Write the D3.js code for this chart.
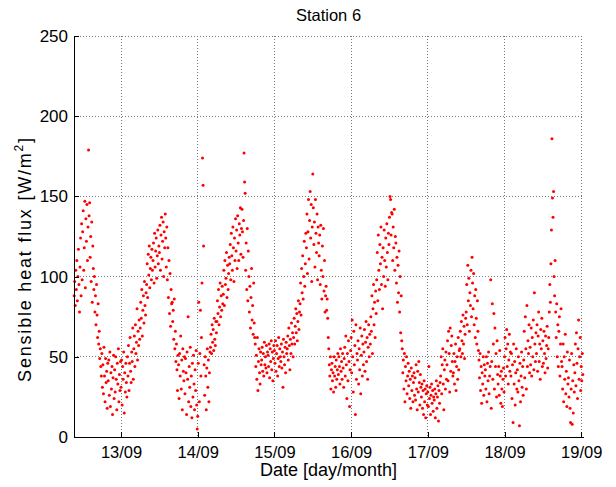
<!DOCTYPE html>
<html lang="en">
<head>
<meta charset="UTF-8">
<title>Station 6</title>
<script src="https://cdn.jsdelivr.net/npm/d3@7"></script>
<style>
    body { margin: 0; background: #fff; }
    svg text { font-family: "Liberation Sans", Arial, Helvetica, sans-serif; fill: #000; }
    .grid line { stroke: #777; stroke-dasharray: 1,2; shape-rendering: crispEdges; }
    .axis path, .axis line { stroke: #000; shape-rendering: crispEdges; }
</style>
</head>
<body>
<div id="chart"></div>
<script>

    /* global d3 */

    // sensible heat flux, one reading every 10 minutes, grouped per day
    // 12/09 starts at 09:20, the other days at 00:00
    var day12 = [88, 97, 82, 104,
        92, 110, 85, 100, 117, 95, 78, 106, 124, 88, 133, 98,
        128, 141, 104, 118, 147, 93, 136, 122, 145, 110, 131, 179,
        138, 146, 112, 125, 97, 134, 84, 119, 105, 92, 100, 78,
        88, 70, 95, 76, 62, 83, 58, 66, 49, 55, 44, 38,
        52, 31, 45, 27, 56, 38, 22, 49, 34, 41, 18, 46,
        35, 48, 26, 53, 19, 40, 30, 44, 14, 37, 51, 24,
        42, 28, 50, 36, 17, 46, 33, 55, 22, 39, 29, 47];

    var day13 = [31, 48, 20, 44, 36, 53, 15, 40, 28, 46, 34, 25,
        50, 38, 57, 29, 46, 62, 41, 34, 53, 47, 68, 36,
        55, 63, 44, 70, 52, 59, 80, 48, 66, 57, 73, 61,
        68, 84, 74, 92, 63, 79, 88, 71, 97, 82, 76, 90,
        95, 108, 87, 114, 101, 119, 93, 105, 112, 98, 117, 104,
        110, 121, 96, 127, 106, 116, 124, 99, 113, 129, 108, 119,
        115, 132, 104, 126, 137, 111, 122, 134, 100, 128, 118, 139,
        124, 106, 131, 98, 118, 87, 110, 77, 102, 69, 92, 83,
        84, 72, 79, 61, 86, 55, 66, 47, 58, 42, 29, 51,
        45, 24, 52, 38, 63, 30, 48, 17, 55, 41, 35, 50,
        27, 49, 40, 14, 53, 36, 75, 22, 44, 31, 56, 19,
        38, 12, 46, 25, 51, 33, 17, 42, 29, 54, 20, 5];

    var day14 = [13, 46, 84, 22, 52, 79, 38, 62, 96, 174, 157, 119,
        45, 26, 50, 38, 17, 43, 55, 31, 48, 22, 40, 53,
        56, 64, 52, 70, 59, 67, 54, 74, 61, 57, 72, 65,
        72, 85, 77, 92, 70, 81, 96, 75, 88, 79, 94, 83,
        89, 104, 82, 110, 95, 99, 115, 87, 107, 92, 102, 112,
        108, 120, 98, 127, 113, 104, 131, 118, 97, 124, 110, 136,
        116, 129, 105, 138, 121, 110, 133, 126, 143, 114, 130, 142,
        128, 112, 135, 177, 159, 152, 104, 121, 92, 130, 85, 116,
        100, 78, 94, 68, 87, 105, 73, 82, 64, 96, 71, 62,
        58, 44, 51, 36, 62, 29, 47, 55, 40, 33, 53, 45,
        48, 56, 41, 52, 38, 59, 45, 50, 43, 57, 40, 53,
        51, 44, 58, 37, 55, 47, 60, 42, 53, 35, 49, 57];

    var day15 = [54, 46, 60, 41, 52, 57, 38, 49, 62, 44, 55, 50,
        47, 58, 43, 53, 31, 61, 50, 45, 56, 40, 59, 52,
        55, 63, 48, 68, 57, 42, 61, 52, 71, 58, 65, 50,
        62, 74, 58, 69, 80, 65, 77, 60, 72, 85, 67, 78,
        83, 96, 76, 105, 90, 113, 86, 100, 122, 94, 108, 127,
        118, 139, 102, 128, 148, 111, 135, 153, 124, 145, 97, 131,
        164, 143, 120, 134, 106, 148, 127, 115, 139, 98, 131, 121,
        113, 126, 95, 132, 104, 86, 119, 100, 130, 91, 110, 78,
        88, 94, 79, 86, 74, 62, 55, 45, 38, 50, 30, 42,
        46, 35, 40, 28, 50, 38, 44, 31, 48, 36, 42, 52,
        39, 50, 44, 33, 55, 41, 47, 36, 52, 43, 31, 49,
        56, 38, 63, 45, 24, 52, 35, 60, 47, 19, 42, 54];

    var day16 = [62, 40, 73, 50, 28, 66, 45, 57, 14, 70, 36, 52,
        48, 60, 33, 55, 42, 68, 27, 51, 63, 38, 58, 45,
        53, 67, 41, 59, 72, 47, 62, 36, 56, 70, 50, 64,
        58, 75, 66, 88, 52, 80, 95, 70, 84, 62, 91, 77,
        98, 115, 85, 126, 104, 92, 120, 108, 131, 95, 112, 80,
        118, 100, 129, 110, 94, 124, 106, 133, 115, 98, 127, 120,
        137, 150, 148, 126, 140, 139, 110, 131, 118, 142, 104, 125,
        121, 96, 112, 84, 107, 90, 116, 78, 100, 65, 88, 60,
        55, 40, 48, 30, 52, 22, 44, 35, 50, 27, 38, 46,
        32, 41, 24, 36, 18, 43, 29, 38, 22, 34, 40, 26,
        37, 23, 45, 30, 17, 41, 28, 47, 34, 20, 39, 31,
        25, 33, 18, 29, 14, 35, 22, 30, 12, 27, 32, 20];

    var day17 = [28, 19, 44, 24, 31, 14, 26, 33, 21, 29, 16, 25,
        23, 30, 12, 27, 35, 18, 25, 32, 10, 29, 21, 34,
        38, 50, 27, 45, 55, 33, 17, 42, 48, 30, 53, 36,
        45, 60, 35, 66, 52, 28, 68, 41, 57, 63, 47, 38,
        40, 52, 33, 47, 58, 29, 44, 50, 36, 62, 42, 54,
        55, 66, 50, 72, 60, 52, 76, 58, 69, 49, 64, 74,
        78, 95, 70, 107, 85, 99, 66, 90, 82, 104, 75, 112,
        96, 80, 102, 70, 88, 62, 92, 74, 58, 85, 66, 54,
        48, 37, 52, 29, 44, 21, 40, 33, 50, 26, 45, 38,
        42, 30, 50, 22, 46, 35, 53, 27, 38, 44, 98, 18,
        47, 83, 36, 58, 77, 30, 68, 44, 52, 25, 60, 39,
        33, 44, 26, 54, 38, 21, 41, 30, 19, 36, 43, 28];

    var day18 = [50, 62, 38, 55, 67, 44, 58, 33, 48, 64, 41, 53,
        38, 52, 24, 45, 9, 58, 33, 47, 20, 40, 55, 30,
        42, 28, 50, 35, 7, 46, 22, 38, 53, 31, 44, 26,
        48, 66, 37, 75, 55, 30, 82, 44, 60, 52, 70, 40,
        56, 45, 68, 38, 62, 50, 73, 42, 90, 58, 47, 65,
        52, 70, 41, 63, 78, 47, 58, 36, 67, 55, 74, 44,
        60, 46, 66, 52, 40, 63, 49, 57, 69, 43, 55, 62,
        78, 95, 84, 108, 129, 186, 149, 137, 153, 100, 88, 110,
        78, 62, 83, 50, 70, 44, 66, 75, 38, 58, 80, 47,
        44, 30, 58, 22, 50, 36, 64, 27, 41, 19, 53, 33,
        37, 25, 48, 18, 9, 30, 52, 8, 35, 15, 45, 28,
        40, 58, 32, 65, 46, 24, 55, 73, 36, 50, 62, 29];

    var day19 = [44, 35, 52, 39];

    var days = [
        {date: new Date(2011, 8, 12, 9, 20), values: day12},
        {date: new Date(2011, 8, 13), values: day13},
        {date: new Date(2011, 8, 14), values: day14},
        {date: new Date(2011, 8, 15), values: day15},
        {date: new Date(2011, 8, 16), values: day16},
        {date: new Date(2011, 8, 17), values: day17},
        {date: new Date(2011, 8, 18), values: day18},
        {date: new Date(2011, 8, 19), values: day19}
    ];

    var yTicks = [0, 50, 100, 150, 200, 250];
    var xTicks = [13, 14, 15, 16, 17, 18, 19].map(function(d) {
        return new Date(2011, 8, d);
    });

    var points = [];
    days.forEach(function(day) {
        day.values.forEach(function(v, i) {
            points.push({t: new Date(day.date.getTime() + i * 600000), v: v});
        });
    });

    var width = 616;
    var height = 487;
    var margin = {left: 74, right: 33, top: 36, bottom: 50};

    var svg = d3.select("#chart").append("svg")
        .attr("width", width)
        .attr("height", height);

    var x = d3.scaleTime()
        .domain([new Date(2011, 8, 12, 9, 17), new Date(2011, 8, 19, 0, 33)])
        .range([margin.left, width - margin.right]);

    var y = d3.scaleLinear()
        .domain([0, 250])
        .range([height - margin.bottom, margin.top]);

    // dotted grid
    var grid = svg.append("g").attr("class", "grid");
    grid.selectAll("line.gy")
        .data(yTicks.slice(1))
        .enter().append("line")
        .attr("x1", margin.left)
        .attr("x2", width - margin.right)
        .attr("y1", function(d) { return y(d); })
        .attr("y2", function(d) { return y(d); });
    grid.selectAll("line.gx")
        .data(xTicks)
        .enter().append("line")
        .attr("x1", function(d) { return x(d); })
        .attr("x2", function(d) { return x(d); })
        .attr("y1", margin.top)
        .attr("y2", height - margin.bottom);

    svg.append("g")
        .selectAll("circle")
        .data(points)
        .enter().append("circle")
        .attr("cx", function(d) { return x(d.t); })
        .attr("cy", function(d) { return y(d.v); })
        .attr("r", 1.5)
        .attr("fill", "#ff0000");

    var xAxis = svg.append("g")
        .attr("class", "axis")
        .attr("transform", "translate(0," + (height - margin.bottom) + ")")
        .call(d3.axisBottom(x)
            .tickValues(xTicks)
            .tickFormat(d3.timeFormat("%d/%m"))
            .tickSizeInner(-5)
            .tickSizeOuter(0)
            .tickPadding(9));
    xAxis.selectAll("text").style("font-size", "16.5px");

    var yAxis = svg.append("g")
        .attr("class", "axis")
        .attr("transform", "translate(" + margin.left + ",0)")
        .call(d3.axisLeft(y)
            .tickValues(yTicks)
            .tickSizeInner(-5)
            .tickSizeOuter(0)
            .tickPadding(6));
    yAxis.selectAll("text").style("font-size", "17px");

    svg.append("text")
        .attr("x", (margin.left + width - margin.right) / 2)
        .attr("y", 21)
        .attr("text-anchor", "middle")
        .style("font-size", "16.5px")
        .text("Station 6");

    svg.append("text")
        .attr("x", (margin.left + width - margin.right) / 2)
        .attr("y", 476)
        .attr("text-anchor", "middle")
        .style("font-size", "18px")
        .text("Date [day/month]");

    var yLabel = svg.append("text")
        .attr("transform", "translate(31,259) rotate(-90)")
        .attr("text-anchor", "middle")
        .style("font-size", "18px")
        .style("letter-spacing", "1.8px");
    yLabel.append("tspan").text("Sensible heat flux [W/m");
    yLabel.append("tspan").attr("dy", -8).style("font-size", "12px").text("2");
    yLabel.append("tspan").attr("dy", 8).text("]");

</script>
</body>
</html>
